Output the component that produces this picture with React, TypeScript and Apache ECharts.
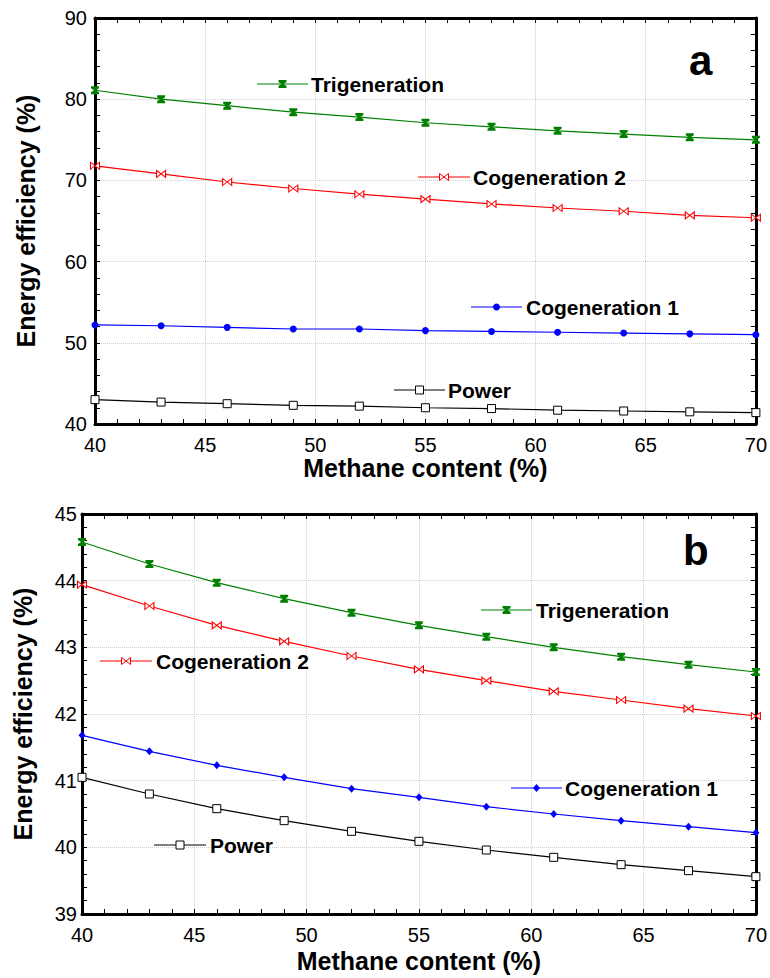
import React, { useEffect, useRef } from "react";
import * as echarts from "echarts";

// ---------- data ----------
const methane = [40, 43, 46, 49, 52, 55, 58, 61, 64, 67, 70];

const aTrigeneration = [81.1, 80.0, 79.2, 78.4, 77.8, 77.1, 76.6, 76.1, 75.7, 75.3, 75.0];
const aCogeneration2 = [71.8, 70.8, 69.8, 69.0, 68.3, 67.7, 67.1, 66.6, 66.2, 65.7, 65.4];
const aCogeneration1 = [52.2, 52.1, 51.9, 51.7, 51.7, 51.5, 51.4, 51.3, 51.2, 51.1, 51.0];
const aPower = [43.0, 42.7, 42.5, 42.3, 42.2, 42.0, 41.9, 41.7, 41.6, 41.5, 41.4];

const bTrigeneration = [44.58, 44.25, 43.97, 43.73, 43.52, 43.33, 43.16, 43.0, 42.86, 42.74, 42.63];
const bCogeneration2 = [43.94, 43.62, 43.33, 43.09, 42.87, 42.67, 42.5, 42.34, 42.21, 42.08, 41.97];
const bCogeneration1 = [41.68, 41.44, 41.23, 41.05, 40.88, 40.75, 40.61, 40.5, 40.4, 40.31, 40.22];
const bPower = [41.05, 40.8, 40.58, 40.4, 40.24, 40.09, 39.96, 39.85, 39.74, 39.65, 39.56];

const xRange = [40, 70, 5];
const yRangeA = [40, 90, 10];
const yRangeB = [39, 45, 1];

const seriesNames = ["Trigeneration", "Cogeneration 2", "Cogeneration 1", "Power"];
const xTitle = "Methane content (%)";
const yTitle = "Energy efficiency (%)";
const panelLabels = ["a", "b"];

// ---------- styles ----------
const FONT = '"Liberation Sans", Arial, Helvetica, sans-serif';
const GREEN = "#008000";
const RED = "#ff0000";
const BLUE = "#0000ff";
const BLACK = "#000000";

const HOURGLASS = "path://M0,0H8V2L5,4L8,6V8H0V6L3,4L0,2Z";
const BOWTIE = "path://M0,0L8,7V0L0,7Z";

type Mk = "hour" | "bow" | "circle" | "diamond" | "square";

const seriesStyle: Record<Mk, any> = {
  hour: { symbol: HOURGLASS, symbolSize: [8, 8], itemStyle: { color: GREEN }, lineStyle: { color: GREEN, width: 1.2 } },
  bow: { symbol: BOWTIE, symbolSize: [9, 7], itemStyle: { color: "#fff", borderColor: RED, borderWidth: 1 }, lineStyle: { color: RED, width: 1.2 } },
  circle: { symbol: "circle", symbolSize: 7, itemStyle: { color: BLUE }, lineStyle: { color: BLUE, width: 1.2 } },
  diamond: { symbol: "diamond", symbolSize: [7, 8], itemStyle: { color: BLUE }, lineStyle: { color: BLUE, width: 1.2 } },
  square: { symbol: "rect", symbolSize: 8, itemStyle: { color: "#fff", borderColor: BLACK, borderWidth: 1 }, lineStyle: { color: BLACK, width: 1.2 } },
};

function markerGraphic(kind: Mk, cx: number, cy: number) {
  switch (kind) {
    case "hour":
      return {
        type: "polygon",
        shape: {
          points: [
            [cx - 4, cy - 4], [cx + 4, cy - 4], [cx + 4, cy - 2], [cx + 1, cy], [cx + 4, cy + 2],
            [cx + 4, cy + 4], [cx - 4, cy + 4], [cx - 4, cy + 2], [cx - 1, cy], [cx - 4, cy - 2],
          ],
        },
        style: { fill: GREEN },
        z: 101,
      };
    case "bow":
      return {
        type: "polygon",
        shape: { points: [[cx - 4.5, cy - 3.5], [cx + 4.5, cy + 3.5], [cx + 4.5, cy - 3.5], [cx - 4.5, cy + 3.5]] },
        style: { fill: "#fff", stroke: RED, lineWidth: 1 },
        z: 101,
      };
    case "circle":
      return { type: "circle", shape: { cx, cy, r: 3.5 }, style: { fill: BLUE }, z: 101 };
    case "diamond":
      return {
        type: "polygon",
        shape: { points: [[cx, cy - 4], [cx + 3.5, cy], [cx, cy + 4], [cx - 3.5, cy]] },
        style: { fill: BLUE },
        z: 101,
      };
    default:
      return { type: "rect", shape: { x: cx - 4, y: cy - 4, width: 8, height: 8 }, style: { fill: "#fff", stroke: BLACK, lineWidth: 1 }, z: 101 };
  }
}

const kindColor: Record<Mk, string> = { hour: GREEN, bow: RED, circle: BLUE, diamond: BLUE, square: BLACK };

function legendItem(text: string, kind: Mk, x1: number, x2: number, y: number, tx: number) {
  return [
    { type: "line", shape: { x1, y1: y, x2, y2: y }, style: { stroke: kindColor[kind], lineWidth: 1.2 }, z: 100 },
    markerGraphic(kind, (x1 + x2) / 2, y),
    {
      type: "text",
      x: tx,
      y,
      style: { text, font: `bold 21px ${FONT}`, fill: "#000", align: "left", verticalAlign: "middle" },
      z: 100,
    },
  ];
}

function buildOption() {
  const axisLine = { show: true, onZero: false, lineStyle: { color: "#000", width: 3 } };
  const tick = { show: true, inside: true, length: 5, lineStyle: { color: "#000", width: 1 } };
  const minor = { show: true, splitNumber: 5, length: 5, lineStyle: { color: "#000", width: 1 } };
  const split = { show: true, lineStyle: { color: "#d0d0d0", type: "dotted", width: 1 } };
  const label = { show: true, color: "#000", fontSize: 20, fontFamily: FONT };
  const nameStyle = { color: "#000", fontSize: 25, fontWeight: "bold", fontFamily: FONT };

  const xAxes: any[] = [];
  const yAxes: any[] = [];
  const yRanges = [yRangeA, yRangeB];
  const yGaps = [57, 47];
  const xGaps = [25, 34];
  const yLabelMargins = [8, 5];
  [0, 1].forEach((g) => {
    xAxes.push({
      type: "value", gridIndex: g, position: "bottom", min: xRange[0], max: xRange[1], interval: xRange[2],
      axisLine, axisTick: tick, minorTick: minor, splitLine: split,
      axisLabel: { ...label, margin: 11 },
      name: xTitle, nameLocation: "middle", nameGap: xGaps[g], nameTextStyle: nameStyle,
    });
    xAxes.push({
      type: "value", gridIndex: g, position: "top", min: xRange[0], max: xRange[1], interval: xRange[2],
      axisLine, axisTick: tick, minorTick: minor, splitLine: { show: false }, axisLabel: { show: false },
    });
    const yr = yRanges[g];
    yAxes.push({
      type: "value", gridIndex: g, position: "left", min: yr[0], max: yr[1], interval: yr[2],
      axisLine, axisTick: tick, minorTick: minor, splitLine: split,
      axisLabel: { ...label, margin: yLabelMargins[g] },
      name: yTitle, nameLocation: "middle", nameGap: yGaps[g], nameRotate: 90, nameTextStyle: nameStyle,
    });
    yAxes.push({
      type: "value", gridIndex: g, position: "right", min: yr[0], max: yr[1], interval: yr[2],
      axisLine, axisTick: tick, minorTick: minor, splitLine: { show: false }, axisLabel: { show: false },
    });
  });

  const mk = (name: string, vals: number[], kind: Mk, g: number) => ({
    type: "line",
    name,
    xAxisIndex: g * 2,
    yAxisIndex: g * 2,
    data: methane.map((x, i) => [x, vals[i]]),
    showSymbol: true,
    clip: false,
    z: 5,
    ...seriesStyle[kind],
  });

  const series = [
    mk(seriesNames[0], aTrigeneration, "hour", 0),
    mk(seriesNames[1], aCogeneration2, "bow", 0),
    mk(seriesNames[2], aCogeneration1, "circle", 0),
    mk(seriesNames[3], aPower, "square", 0),
    mk(seriesNames[0], bTrigeneration, "hour", 1),
    mk(seriesNames[1], bCogeneration2, "bow", 1),
    mk(seriesNames[2], bCogeneration1, "diamond", 1),
    mk(seriesNames[3], bPower, "square", 1),
  ];

  const graphics: any[] = [
    ...legendItem(seriesNames[0], "hour", 257, 308, 84, 311),
    ...legendItem(seriesNames[1], "bow", 418, 470, 177, 473),
    ...legendItem(seriesNames[2], "circle", 471, 522, 307, 526),
    ...legendItem(seriesNames[3], "square", 394, 445, 390, 448),
    ...legendItem(seriesNames[0], "hour", 481, 532, 610, 536),
    ...legendItem(seriesNames[1], "bow", 100, 152, 661, 156),
    ...legendItem(seriesNames[2], "diamond", 511, 562, 788, 565),
    ...legendItem(seriesNames[3], "square", 154, 206, 845, 210),
    {
      type: "text", x: 689, y: 60,
      style: { text: panelLabels[0], font: `bold 42px ${FONT}`, fill: "#000", align: "left", verticalAlign: "middle" },
      z: 100,
    },
    {
      type: "text", x: 683, y: 550,
      style: { text: panelLabels[1], font: `bold 42px ${FONT}`, fill: "#000", align: "left", verticalAlign: "middle" },
      z: 100,
    },
  ];

  return {
    animation: false,
    backgroundColor: "#ffffff",
    textStyle: { fontFamily: FONT },
    grid: [
      { left: 95, top: 18, right: 13, bottom: 554 },
      { left: 82, top: 514, right: 13, bottom: 64 },
    ],
    xAxis: xAxes,
    yAxis: yAxes,
    series,
    graphic: { elements: graphics },
  };
}

export default function App() {
  const ref = useRef<HTMLDivElement>(null);
  useEffect(() => {
    if (!ref.current) return;
    const chart = echarts.init(ref.current, null, { renderer: "svg" });
    chart.setOption(buildOption() as any);
    return () => chart.dispose();
  }, []);
  return (
    <div
      ref={ref}
      style={{ position: "fixed", left: 0, top: 0, width: 770, height: 978, background: "#fff" }}
    />
  );
}
